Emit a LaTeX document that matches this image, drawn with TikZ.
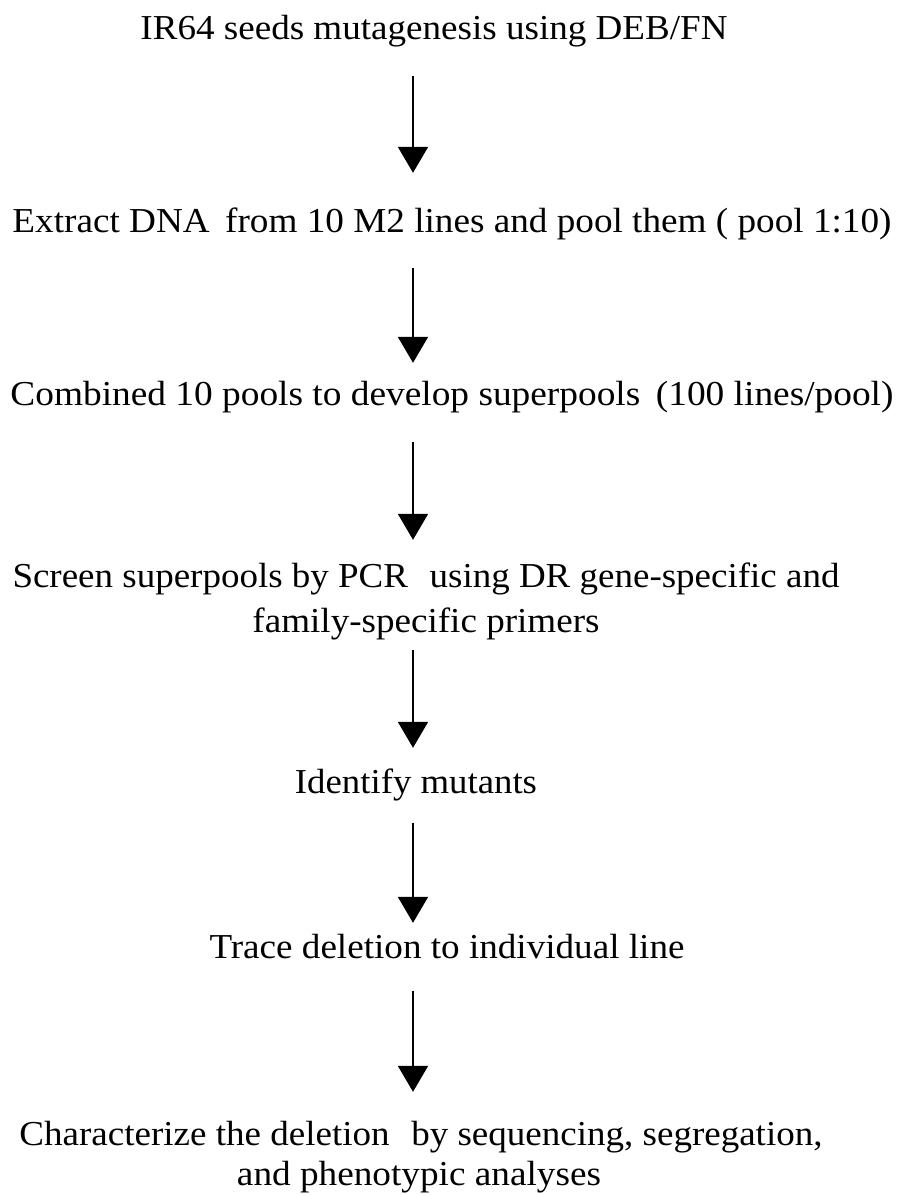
\documentclass[tikz,border=0pt]{standalone}
\usepackage{fontspec}
\setmainfont{Liberation Serif}
\usetikzlibrary{arrows.meta}
\newcommand{\fitw}[2]{\resizebox{#1pt}{\height}{#2}}
\begin{document}
\begin{tikzpicture}[x=1pt,y=-1pt,
  lbl/.style={inner sep=0pt, anchor=base, text height=24pt, text depth=8pt,
              font=\fontsize{35}{40}\selectfont},
  arr/.style={line width=2pt, -{Triangle[width=30pt,length=26pt]}}]
\fill[white] (0,0) rectangle (899,1195);
\useasboundingbox (0,0) rectangle (899,1195);
\coordinate (ax) at (413,0);
\node[lbl] (t1) at (434,39) {\fitw{587}{IR64 seeds mutagenesis using DEB/FN}};
\node[lbl] (t2) at (452,232) {\fitw{879}{Extract DNA\, from 10 M2 lines and pool them ( pool 1:10)}};
\node[lbl] (t3) at (452,405) {\fitw{883}{Combined 10 pools to develop superpools\, (100 lines/pool)}};
\node[lbl] (t4a) at (426,587) {\fitw{827}{Screen superpools by PCR\,\, using DR gene-specific and}};
\node[lbl] (t4b) at (426,632) {\fitw{347}{family-specific primers}};
\node[lbl] (t5) at (416,793) {\fitw{242}{Identify mutants}};
\node[lbl] (t6) at (447,958) {\fitw{475}{Trace deletion to individual line}};
\node[lbl] (t7a) at (421,1145) {\fitw{803}{Characterize the deletion\,\, by sequencing, segregation,}};
\node[lbl] (t7b) at (419,1185) {\fitw{364}{and phenotypic analyses}};
\draw[arr, shorten <=29pt, shorten >=35pt] (t1.south -| ax) -- (t2.north -| ax);
\draw[arr, shorten <=28pt, shorten >=18pt] (t2.south -| ax) -- (t3.north -| ax);
\draw[arr, shorten <=29pt, shorten >=23pt] (t3.south -| ax) -- (t4a.north -| ax);
\draw[arr, shorten <=10pt, shorten >=21pt] (t4b.south -| ax) -- (t5.north -| ax);
\draw[arr, shorten <=22pt, shorten >=11pt] (t5.south -| ax) -- (t6.north -| ax);
\draw[arr, shorten <=25pt, shorten >=29pt] (t6.south -| ax) -- (t7a.north -| ax);
\end{tikzpicture}
\end{document}
